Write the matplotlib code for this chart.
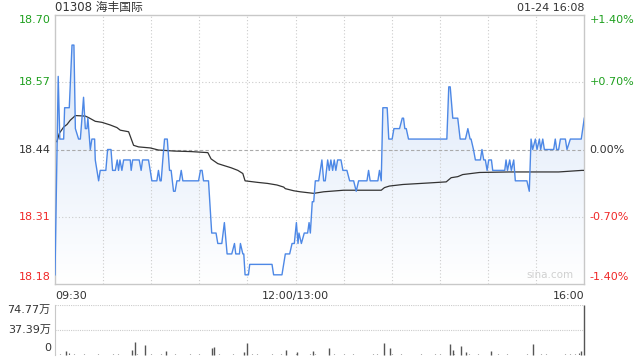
import numpy as np
import matplotlib
matplotlib.use("Agg")
import matplotlib.pyplot as plt
from matplotlib.colors import LinearSegmentedColormap

plt.rcParams['font.family'] = ['DejaVu Sans', 'Noto Sans CJK SC']

# --- data ---
title = "01308 海丰国际"
stamp = "01-24 16:08"
prev_close = 18.44

# price line: minute index (0 = 09:30, 150 = 12:00/13:00, 330 = 16:00), price
price_t = [0, 2, 3, 5.4, 6, 8.9, 10.6, 11.8, 12.7, 14.7, 15.8, 17.8, 18.9, 19.9, 20.5,
           22, 23, 24.7, 25.1, 27.2, 28.2, 31.7, 32.8, 34.9, 35.9, 37.6, 38.8, 39.6,
           40.5, 41.7, 42.8, 46.9, 47.5, 48.4, 52.5, 53.7, 54.6, 58.3, 60.4, 63.5,
           64.5, 65.5, 66.2, 67.2, 68.3, 70, 71.4, 72.4, 73.9, 74.9, 76, 77.6, 78.7,
           79.7, 89.5, 90.7, 91.7, 92.6, 95.7, 97.7, 100.4, 101.5, 104, 105.6, 107.3,
           110.2, 111.9, 112.7, 115, 115.6, 117.1, 117.7, 118.5, 120.6, 121.4, 135.3,
           136.3, 141.5, 143.6, 146.3, 147.8, 149.2, 150.5, 151.5, 152.1, 153.6, 155.4,
           157.5, 158.4, 159.2, 160.4, 161.3, 162.3, 164.4, 166.4, 167.5, 168.5, 170,
           171, 172, 173.1, 174.1, 175.1, 176.2, 178.3, 179.5, 182, 183.7, 186.2, 187.8,
           189.3, 194.5, 195.5, 196.5, 201.3, 202.3, 203.4, 204.4, 207.1, 208.1, 210.2,
           211.3, 214.8, 216.5, 217.3, 218.1, 219, 220.4, 244.3, 245.5, 246.4, 248,
           251.1, 252.6, 255.9, 257.4, 258.8, 259.4, 260.9, 262.1, 265.2, 266.2, 267.3,
           268.3, 269.4, 270.4, 272.1, 272.9, 280.4, 281.2, 282.1, 283.5, 284.5, 286,
           287, 294.2, 295.7, 296.8, 297.8, 299.5, 300.5, 302, 302.8, 304.1, 305.1,
           310.9, 311.9, 312.8, 314, 315.1, 318.2, 319.2, 321.3, 328.1, 330]
price_v = [18.20, 18.58, 18.46, 18.46, 18.52, 18.52, 18.64, 18.64, 18.48, 18.46, 18.46,
           18.54, 18.48, 18.48, 18.50, 18.44, 18.46, 18.46, 18.42, 18.38, 18.40, 18.40,
           18.44, 18.44, 18.40, 18.40, 18.42, 18.40, 18.42, 18.40, 18.42, 18.42, 18.40,
           18.42, 18.42, 18.40, 18.42, 18.42, 18.38, 18.38, 18.40, 18.38, 18.38, 18.42,
           18.46, 18.46, 18.40, 18.40, 18.36, 18.36, 18.38, 18.38, 18.40, 18.38, 18.38,
           18.40, 18.40, 18.38, 18.38, 18.28, 18.28, 18.26, 18.26, 18.30, 18.24, 18.24,
           18.26, 18.24, 18.24, 18.26, 18.24, 18.24, 18.20, 18.20, 18.22, 18.22, 18.20,
           18.20, 18.24, 18.24, 18.26, 18.26, 18.30, 18.26, 18.28, 18.26, 18.28, 18.28,
           18.30, 18.28, 18.34, 18.34, 18.38, 18.38, 18.42, 18.38, 18.38, 18.42, 18.40,
           18.42, 18.40, 18.42, 18.40, 18.42, 18.42, 18.40, 18.40, 18.38, 18.38, 18.36,
           18.38, 18.38, 18.40, 18.38, 18.38, 18.40, 18.38, 18.52, 18.52, 18.46, 18.46,
           18.48, 18.48, 18.50, 18.50, 18.48, 18.48, 18.46, 18.46, 18.56, 18.56, 18.50,
           18.50, 18.46, 18.46, 18.48, 18.46, 18.46, 18.44, 18.42, 18.42, 18.44, 18.42,
           18.42, 18.40, 18.42, 18.42, 18.40, 18.40, 18.42, 18.40, 18.42, 18.40, 18.42,
           18.38, 18.38, 18.36, 18.46, 18.44, 18.46, 18.44, 18.46, 18.44, 18.46, 18.44,
           18.44, 18.46, 18.44, 18.44, 18.46, 18.46, 18.44, 18.46, 18.46, 18.50]

# average price line
avg_t = [1.2, 2.7, 5.4, 7.5, 9.5, 12.7, 18.9, 21, 25.1, 29.3, 34.4, 38.6, 40.7, 45.9,
         49, 52.1, 59.4, 64.5, 74.5, 84.9, 95.3, 97.3, 101.5, 105.6, 109.8, 114, 117.1,
         118.5, 126.4, 132.6, 138.4, 142.6, 143.6, 148.8, 152.9, 161.3, 167.5, 180,
         198.6, 203.4, 205.4, 208.5, 216.9, 233.5, 243.9, 247, 251.1, 254.2, 264.6,
         282.9, 314, 328.5, 330]
avg_v = [18.455, 18.471, 18.483, 18.488, 18.496, 18.505, 18.504, 18.501, 18.494, 18.492,
         18.487, 18.482, 18.477, 18.474, 18.448, 18.445, 18.443, 18.439, 18.437, 18.436,
         18.434, 18.422, 18.413, 18.409, 18.405, 18.400, 18.394, 18.380, 18.377, 18.375,
         18.372, 18.368, 18.365, 18.361, 18.359, 18.356, 18.359, 18.362, 18.362, 18.362,
         18.367, 18.370, 18.373, 18.376, 18.378, 18.386, 18.388, 18.392, 18.396, 18.397,
         18.397, 18.400, 18.400]

# volume (万 shares): larger bars and the background of small per-minute bars
vol_t = [7, 48, 50, 56, 69, 98, 99, 118, 120, 144, 151, 161, 171, 205, 209, 246, 248,
         253, 256, 272, 298, 328, 330]
vol_v = [5.9, 7.4, 19.3, 14.9, 5.9, 10.9, 11.9, 5.0, 18.3, 7.4, 5.0, 5.9, 10.4, 18.3,
         10.4, 16.3, 7.4, 13.4, 4.5, 5.9, 16.3, 5.9, 74.77]
small_vol = [1.5, 2.2, 1.0, 2.8, 1.2, 0.9, 1.6, 1.1, 0.8, 1.3, 1.0, 0.7, 1.4, 2.0, 1.1,
             0.9, 1.8, 1.2, 0.8, 1.0, 1.5, 0.9, 1.2, 0.7, 1.1, 1.9, 0.8, 1.0, 1.3, 0.9,
             1.6, 1.1, 0.8, 2.4, 1.2, 0.9, 1.0, 1.4, 0.8, 1.1, 0.9, 1.2, 1.7, 0.8, 1.0,
             1.3, 0.9, 2.1, 1.1, 0.8, 1.2, 1.0, 0.9, 1.4, 1.6, 0.8, 1.1, 1.0, 1.3, 0.9,
             1.2, 0.8, 1.5, 1.0, 0.9, 1.1, 2.2, 1.3, 0.8, 1.0, 1.2, 0.9, 1.4, 1.0, 0.8,
             1.1, 1.3, 0.9, 1.0, 1.2, 2.0, 0.8, 1.1, 1.5, 0.9, 1.0, 1.2, 0.8, 1.3, 1.1,
             0.9, 1.0, 1.4, 0.8, 1.2, 1.0, 0.9, 1.1, 1.3, 0.8, 1.0, 1.2, 1.6, 0.9, 1.1,
             1.0, 1.4, 2.2, 1.5, 3.0]
vol_max = 74.77
vol_labels = ["74.77万", "37.39万", "0"]

pct_steps = [1.4, 0.7, 0.0, -0.7, -1.4]
x_labels = ["09:30", "12:00/13:00", "16:00"]

green = '#1ea01e'
red = '#f02828'
dark = '#333333'
grid_c = '#cccccc'

fig = plt.figure(figsize=(6.4, 3.6), dpi=100)
ax = fig.add_axes([55 / 640, 75.7 / 360, 529.3 / 640, 269.6 / 360])
axv = fig.add_axes([55 / 640, 4.7 / 360, 529.3 / 640, 50.6 / 360])

ylo = prev_close * (1 - 0.014)
yhi = prev_close * (1 + 0.014)

# gradient fill under the price line
cmap = LinearSegmentedColormap.from_list('fill', ['#ffffff', '#d6e4f8'])
grad = np.linspace(0, 1, 256).reshape(-1, 1)
im = ax.imshow(grad, extent=[0, 330, ylo, yhi], aspect='auto', cmap=cmap,
               origin='lower', zorder=1)
poly = ax.fill_between(price_t, price_v, ylo, color='none', lw=0)
im.set_clip_path(poly.get_paths()[0], transform=ax.transData)

# grid
for m in range(30, 330, 30):
    ax.axvline(m, color=grid_c, lw=0.8, ls=(0, (1, 2)), zorder=2)
for k in [0.7, -0.7]:
    ax.axhline(prev_close * (1 + k / 100), color=grid_c, lw=0.8, ls=(0, (1, 2)), zorder=2)
ax.axhline(prev_close, color='#aaaaaa', lw=0.8, ls=(0, (3, 2)), zorder=2)

ax.plot(price_t, price_v, color='#4d88e6', lw=1.0, zorder=4)
ax.plot(avg_t, avg_v, color=dark, lw=0.9, zorder=3)

ax.set_xlim(0, 330)
ax.set_ylim(ylo, yhi)
ax.set_xticks([])
ax.set_yticks([])
for s in ax.spines.values():
    s.set_color('#c8c8c8')
    s.set_linewidth(1.0)

# y labels (price on left, percent on right)
ytr = ax.get_yaxis_transform()
for k in pct_steps:
    val = prev_close * (1 + k / 100)
    col = green if k > 0 else (red if k < 0 else dark)
    va = 'top' if k == 1.4 else ('bottom' if k == -1.4 else 'center')
    off = 0.004 if k == -1.4 else 0
    ax.text(-0.008, val + off, f"{val:.2f}", transform=ytr, ha='right', va=va,
            fontsize=8, color=col)
    ax.text(1.01, val + off, f"{k:+.2f}%" if k != 0 else "0.00%", transform=ytr,
            ha='left', va=va, fontsize=8, color=col)

# x labels
ax.text(0, -0.025, x_labels[0], transform=ax.transAxes, ha='left', va='top',
        fontsize=8, color=dark)
ax.text(150 / 330, -0.025, x_labels[1], transform=ax.transAxes, ha='center', va='top',
        fontsize=8, color=dark)
ax.text(1, -0.025, x_labels[2], transform=ax.transAxes, ha='right', va='top',
        fontsize=8, color=dark)

# title and timestamp
ax.text(0, 1.025, title, transform=ax.transAxes, ha='left', va='center',
        fontsize=8.5, color=dark)
ax.text(1, 1.025, stamp, transform=ax.transAxes, ha='right', va='center',
        fontsize=8, color=dark)
ax.text(0.98, 0.015, "sina.com", transform=ax.transAxes, ha='right', va='bottom',
        fontsize=7.5, color='#d0d0d0')

# volume panel
small_t = np.arange(len(small_vol)) * 3
axv.vlines(small_t, 0, small_vol, color='#666666', lw=0.8)
axv.vlines(vol_t, 0, vol_v, color='#555555', lw=1.0, clip_on=False)
axv.axhline(vol_max, color=grid_c, lw=0.8, ls=(0, (1, 1)))
axv.axhline(vol_max / 2, color=grid_c, lw=0.8, ls=(0, (1, 1)))
axv.set_xlim(0, 330)
axv.set_ylim(0, vol_max)
axv.set_xticks([])
axv.set_yticks([])
for name, s in axv.spines.items():
    s.set_visible(name == 'left')
    s.set_color('#c8c8c8')
axv.text(-0.008, vol_max, vol_labels[0], transform=axv.get_yaxis_transform(),
         ha='right', va='top', fontsize=8, color=dark)
axv.text(-0.008, vol_max / 2, vol_labels[1], transform=axv.get_yaxis_transform(),
         ha='right', va='center', fontsize=8, color=dark)
axv.text(-0.008, 3, vol_labels[2], transform=axv.get_yaxis_transform(),
         ha='right', va='bottom', fontsize=8, color=dark)

fig.savefig("out.png", dpi=100)
